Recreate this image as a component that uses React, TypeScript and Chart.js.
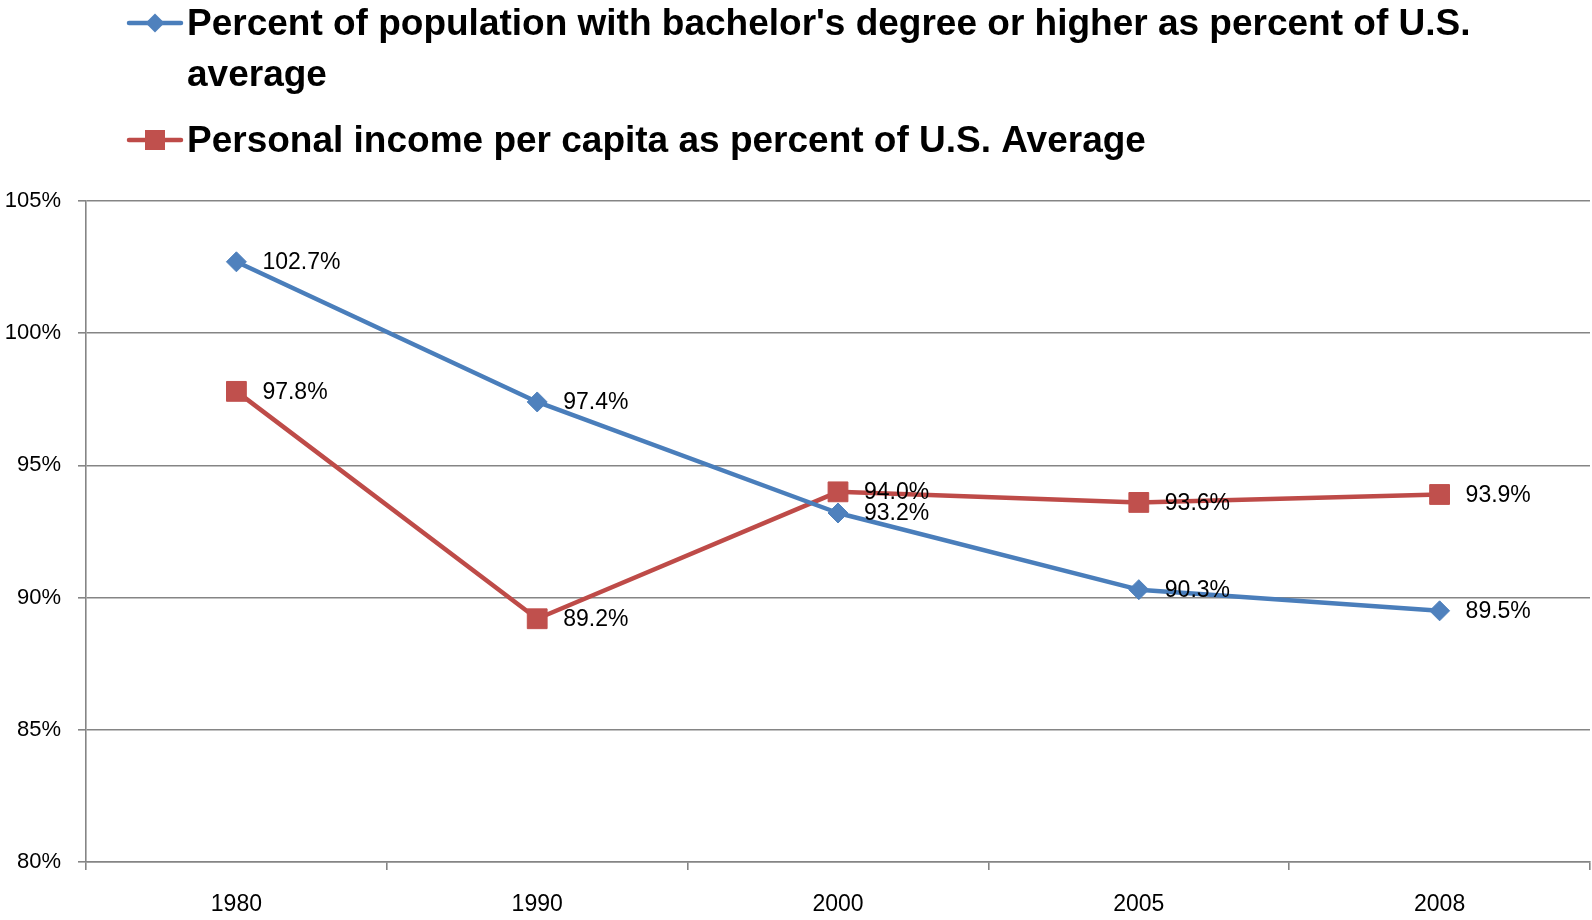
import React, { useEffect, useRef } from "react";
import { Chart, registerables } from "chart.js";

Chart.register(...registerables);

// ---- Data ----
const categories = ["1980", "1990", "2000", "2005", "2008"];
const bachelorShare = [102.7, 97.4, 93.2, 90.3, 89.5];
const incomeShare = [97.8, 89.2, 94.0, 93.6, 93.9];
const bachelorLabel =
  "Percent of population with bachelor's degree or higher as percent of U.S. average";
const incomeLabel = "Personal income per capita as percent of U.S. Average";
const yMin = 80;
const yMax = 105;
const yStep = 5;

const FONT = '"Liberation Sans", Arial, sans-serif';
const GRID = "#858585";

function wrapText(ctx: CanvasRenderingContext2D, text: string, maxW: number): string[] {
  const words = text.split(" ");
  const lines: string[] = [];
  let cur = "";
  for (const w of words) {
    const test = cur ? cur + " " + w : w;
    if (ctx.measureText(test).width > maxW && cur) {
      lines.push(cur);
      cur = w;
    } else {
      cur = test;
    }
  }
  if (cur) lines.push(cur);
  return lines;
}

const dataLabelPlugin = {
  id: "dataLabels",
  afterDatasetsDraw(chart: any) {
    const ctx = chart.ctx as CanvasRenderingContext2D;
    ctx.save();
    ctx.font = `23px ${FONT}`;
    ctx.fillStyle = "#000";
    ctx.textBaseline = "middle";
    ctx.textAlign = "left";
    chart.data.datasets.forEach((ds: any, i: number) => {
      const meta = chart.getDatasetMeta(i);
      meta.data.forEach((pt: any, j: number) => {
        ctx.fillText(Number(ds.data[j]).toFixed(1) + "%", pt.x + 26, pt.y + 1);
      });
    });
    ctx.restore();
  },
};

const legendPlugin = {
  id: "wrapLegend",
  afterDraw(chart: any) {
    const ctx = chart.ctx as CanvasRenderingContext2D;
    ctx.save();
    ctx.font = `bold 37px ${FONT}`;
    ctx.textBaseline = "alphabetic";
    ctx.textAlign = "left";
    const textX = 187;
    const maxW = chart.width - textX - 20;
    let baseline = 35;
    chart.data.datasets.forEach((ds: any) => {
      const lines = wrapText(ctx, ds.label, maxW);
      const midY = baseline - 12;
      ctx.strokeStyle = ds.borderColor;
      ctx.lineWidth = 4.5;
      ctx.lineCap = "round";
      ctx.beginPath();
      ctx.moveTo(129, midY);
      ctx.lineTo(181, midY);
      ctx.stroke();
      ctx.fillStyle = ds.pointBackgroundColor;
      ctx.beginPath();
      const cx = 155;
      if (ds.pointStyle === "rectRot") {
        const r = 9.5;
        ctx.moveTo(cx - r, midY);
        ctx.lineTo(cx, midY - r);
        ctx.lineTo(cx + r, midY);
        ctx.lineTo(cx, midY + r);
        ctx.closePath();
      } else {
        const h = 10;
        ctx.rect(cx - h, midY - h, 2 * h, 2 * h);
      }
      ctx.fill();
      ctx.fillStyle = "#000";
      lines.forEach((ln, k) => {
        ctx.fillText(ln, textX, baseline + k * 51);
      });
      baseline += (lines.length - 1) * 51 + 66;
    });
    ctx.restore();
  },
};

export default function App() {
  const ref = useRef<HTMLCanvasElement | null>(null);

  useEffect(() => {
    document.body.style.margin = "0";
    if (!ref.current) return;
    const chart = new Chart(ref.current, {
      type: "line",
      data: {
        labels: categories,
        datasets: [
          {
            label: bachelorLabel,
            data: bachelorShare,
            borderColor: "#4A7EBB",
            backgroundColor: "#4F81BD",
            pointBackgroundColor: "#4F81BD",
            pointBorderColor: "#4F81BD",
            pointStyle: "rectRot",
            pointRadius: 10,
            pointBorderWidth: 1,
            borderWidth: 4.5,
            borderJoinStyle: "round",
            borderCapStyle: "round",
            tension: 0,
          } as any,
          {
            label: incomeLabel,
            data: incomeShare,
            borderColor: "#BE4B48",
            backgroundColor: "#C0504D",
            pointBackgroundColor: "#C0504D",
            pointBorderColor: "#C0504D",
            pointStyle: "rect",
            pointRadius: 14,
            pointBorderWidth: 1,
            borderWidth: 4.5,
            borderJoinStyle: "round",
            borderCapStyle: "round",
            tension: 0,
          } as any,
        ],
      },
      options: {
        animation: false,
        responsive: false,
        devicePixelRatio: 1,
        layout: { autoPadding: false, padding: { top: 201, right: 2, left: 0, bottom: 0 } },
        plugins: {
          legend: { display: false },
          tooltip: { enabled: false },
        },
        scales: {
          x: {
            offset: true,
            grid: {
              offset: true,
              drawOnChartArea: false,
              drawTicks: true,
              tickLength: 8,
              color: GRID,
              lineWidth: 1.6,
            },
            border: { color: GRID, width: 1.6 },
            ticks: {
              color: "#000",
              font: { family: FONT, size: 23 },
              padding: 21,
              maxRotation: 0,
            },
            afterFit: (scale: any) => {
              scale.height = 58;
              scale.paddingRight = 0;
              scale.paddingLeft = 0;
            },
          },
          y: {
            min: yMin,
            max: yMax,
            grid: {
              color: GRID,
              lineWidth: 1.6,
              tickLength: 8,
            },
            border: { color: GRID, width: 1.6 },
            ticks: {
              stepSize: yStep,
              color: "#000",
              font: { family: FONT, size: 22 },
              padding: 17,
              callback: (v: any) => v + "%",
            },
            afterFit: (scale: any) => {
              scale.width = 86;
            },
          },
        },
      },
      plugins: [dataLabelPlugin, legendPlugin],
    });
    return () => chart.destroy();
  }, []);

  return (
    <div style={{ position: "absolute", left: 0, top: 0, width: 1592, height: 920, background: "#fff" }}>
      <canvas ref={ref} width={1592} height={920} style={{ width: 1592, height: 920 }} />
    </div>
  );
}
